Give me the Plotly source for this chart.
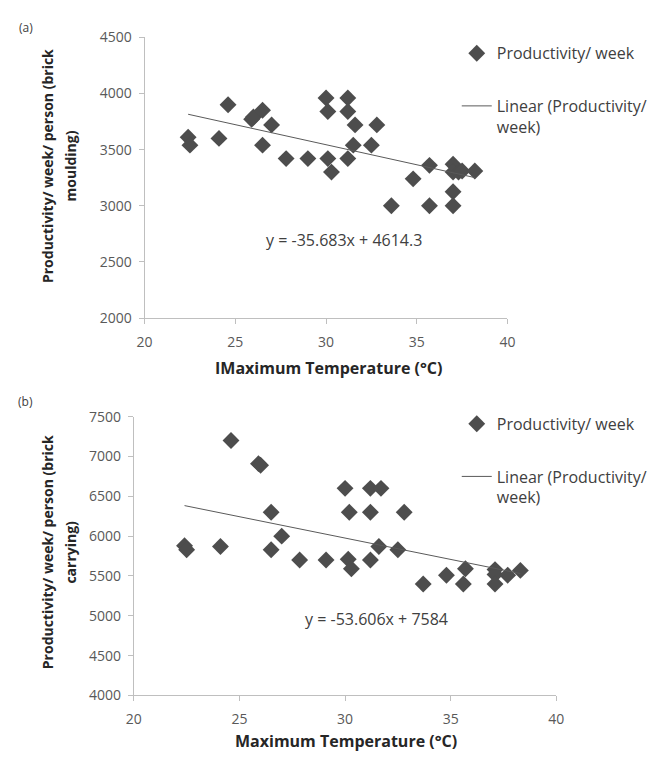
import plotly.graph_objects as go

# ---------------- data: (a) brick moulding ----------------
temp_a = [22.4, 22.5, 24.1, 24.6, 25.9, 26.0, 26.5, 27.0, 26.5, 27.8, 29.0,
          30.0, 30.1, 30.1, 30.3, 31.2, 31.2, 31.2, 31.5, 31.6, 32.8, 32.5,
          33.6, 34.8, 35.7, 35.7, 37.0, 37.0, 37.3, 37.5, 38.2, 37.0, 37.0]
prod_a = [3610, 3540, 3600, 3900, 3770, 3790, 3850, 3720, 3540, 3420, 3420,
          3960, 3840, 3420, 3300, 3960, 3840, 3420, 3540, 3720, 3720, 3540,
          3000, 3240, 3360, 3000, 3370, 3300, 3300, 3310, 3310, 3125, 3000]
slope_a, intercept_a = -35.683, 4614.3
eq_a = "y = -35.683x + 4614.3"

# ---------------- data: (b) brick carrying ----------------
temp_b = [22.4, 22.5, 24.1, 24.6, 25.9, 26.0, 26.5, 27.0, 26.5, 27.85, 29.1,
          30.0, 30.2, 30.15, 30.3, 31.2, 31.7, 31.2, 31.2, 31.6, 32.8, 32.5,
          33.7, 34.8, 35.7, 35.6, 37.1, 37.1, 37.1, 37.7, 38.3]
prod_b = [5880, 5830, 5870, 7200, 6910, 6890, 6300, 6000, 5830, 5700, 5700,
          6600, 6300, 5710, 5590, 6600, 6600, 6300, 5700, 5870, 6300, 5830,
          5400, 5510, 5590, 5400, 5580, 5520, 5400, 5510, 5570]
slope_b, intercept_b = -53.606, 7584
eq_b = "y = -53.606x + 7584"

x_ticks = [20, 25, 30, 35, 40]
series_name = "Productivity/ week"
trend_name = "Linear (Productivity/<br>week)"
ytitle_a = ["Productivity/ week/ person (brick", "moulding)"]
ytitle_b = ["Productivity/ week/ person (brick", "carrying)"]
xtitle_a = "IMaximum Temperature (°C)"
xtitle_b = "Maximum Temperature (°C)"

FONT = "Open Sans"
MARK = "#4d4d4d"
AXIS = "#bfbfbf"
TICKC = "#595959"

W, H = 655, 763
def px(x): return x / W
def py(y): return 1 - y / H

fig = go.Figure()

def add_panel(tx, ty, slope, icpt, xa, ya, leg_pts, leg_line):
    fig.add_trace(go.Scatter(
        x=tx, y=ty, mode="markers", name=series_name,
        marker=dict(symbol="diamond", size=13, color=MARK),
        xaxis=xa, yaxis=ya, legend=leg_pts, cliponaxis=False))
    xs = [min(tx), max(tx)]
    fig.add_trace(go.Scatter(
        x=xs, y=[slope * v + icpt for v in xs], mode="lines", name=trend_name,
        line=dict(color="#5a5a5a", width=1),
        xaxis=xa, yaxis=ya, legend=leg_line))

add_panel(temp_a, prod_a, slope_a, intercept_a, "x", "y", "legend", "legend2")
add_panel(temp_b, prod_b, slope_b, intercept_b, "x2", "y2", "legend3", "legend4")

axis_common = dict(showgrid=False, zeroline=False, showline=True, linecolor=AXIS,
                   linewidth=1, ticks="outside", ticklen=5, tickcolor=AXIS,
                   tickfont=dict(family=FONT, size=14, color=TICKC))

fig.update_layout(
    width=W, height=H, margin=dict(l=0, r=0, t=0, b=0),
    paper_bgcolor="white", plot_bgcolor="white",
    font=dict(family=FONT, color="#404040"),
    xaxis=dict(domain=[px(140), px(512)], range=[20, 40], tickvals=x_ticks,
               anchor="y", ticklabelstandoff=6, **axis_common),
    yaxis=dict(domain=[py(316), py(28)], range=[2000, 4500], dtick=500,
               anchor="x", ticklabelstandoff=4, **axis_common),
    xaxis2=dict(domain=[px(129), px(562)], range=[20, 40], tickvals=x_ticks,
                anchor="y2", ticklabelstandoff=6, **axis_common),
    yaxis2=dict(domain=[py(703), py(417)], range=[4000, 7500], dtick=500,
                anchor="x2", ticklabelstandoff=4, **axis_common),
    showlegend=True,
)

leg_font = dict(family=FONT, size=16, color="#404040")
def leg(x, y):
    return dict(x=px(x), y=py(y), xanchor="left", yanchor="top", font=leg_font,
                bgcolor="rgba(0,0,0,0)", borderwidth=0, valign="top",
                itemwidth=30)
fig.update_layout(legend=leg(460, 27), legend2=leg(460, 81),
                  legend3=leg(460, 407), legend4=leg(460, 461))

def note(text, x, y, font, xanchor="center", angle=0):
    return dict(text=text, x=px(x), y=py(y), xref="paper", yref="paper",
                xanchor=xanchor, yanchor="middle", showarrow=False,
                textangle=angle, font=font)

ann = []
small = dict(family=FONT, size=12, color="#404040")
ann.append(note("(a)", 9, 18, small, xanchor="left"))
ann.append(note("(b)", 8, 401, small, xanchor="left"))
xt_font = dict(family=FONT, size=16, color="#262626")
ann.append(note("<b>%s</b>" % xtitle_a, 329, 367, xt_font))
ann.append(note("<b>%s</b>" % xtitle_b, 346, 750, xt_font))
yt_font = dict(family=FONT, size=14, color="#262626")
for (lines, yc) in ((ytitle_a, 160), (ytitle_b, 556)):
    for (line, xc) in zip(lines, (40, 64)):
        ann.append(note("<b>%s</b>" % line, xc, yc, yt_font, angle=-90))
eq_font = dict(family=FONT, size=16, color="#404040")
ann.append(note(eq_a, 344, 236, eq_font))
ann.append(note(eq_b, 378, 625, eq_font))
fig.update_layout(annotations=ann)

fig.write_html("out.html",
               config={"displayModeBar": False},
               post_script="document.body.style.margin='0';"
                           "document.body.style.overflow='hidden';")
